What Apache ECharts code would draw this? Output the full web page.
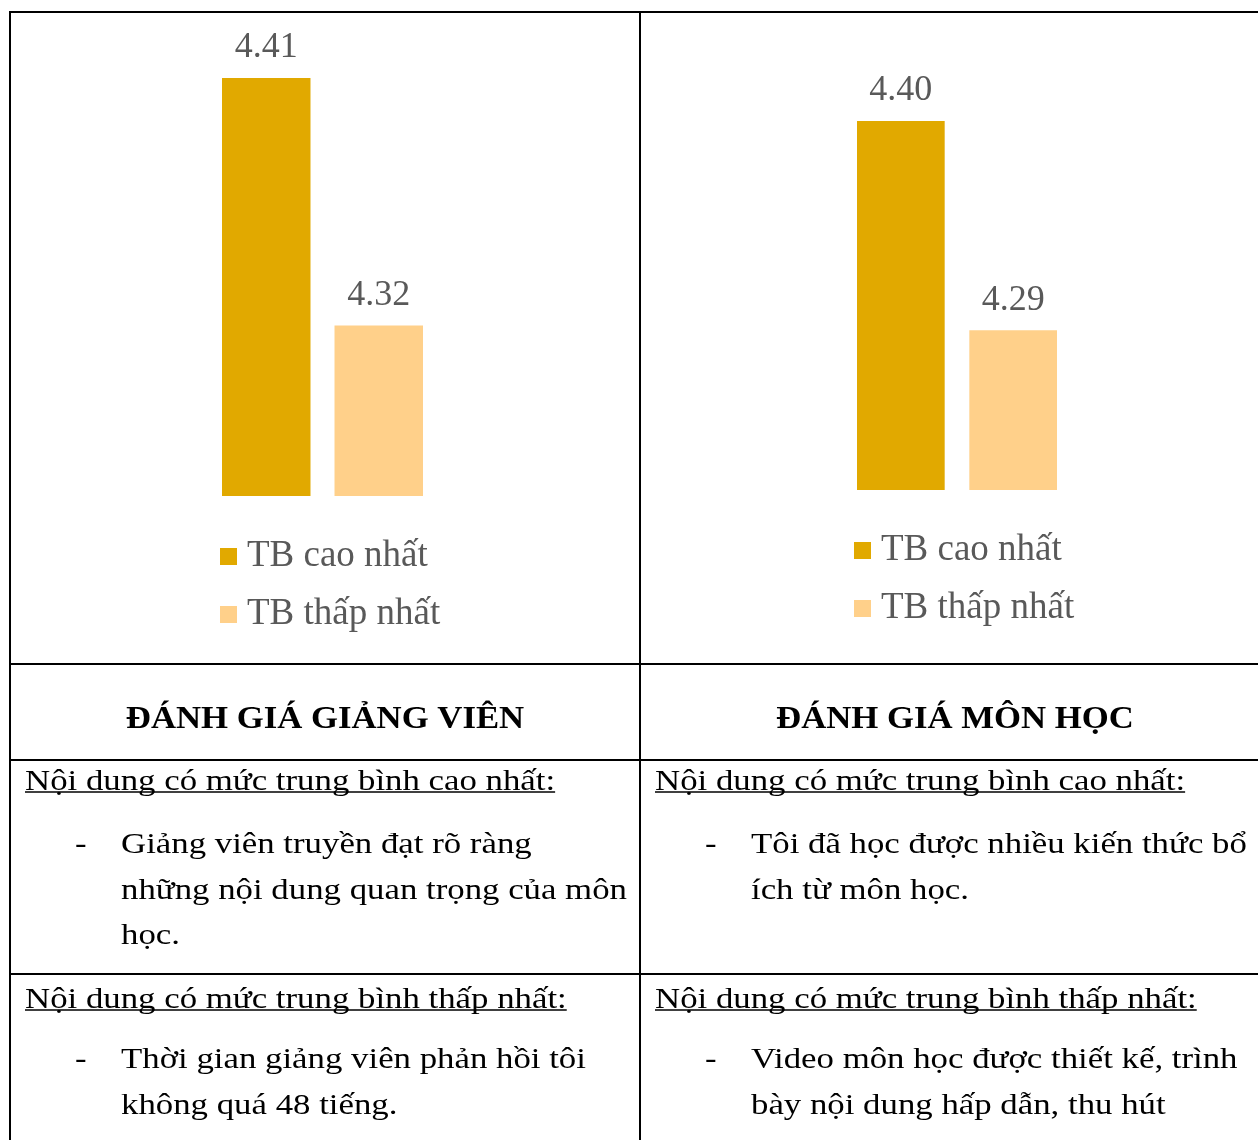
<!DOCTYPE html>
<html>
<head>
<meta charset="utf-8">
<title>Đánh giá giảng viên và môn học</title>
<script src="https://cdn.jsdelivr.net/npm/echarts@6/dist/echarts.min.js"></script>
<style>
  html, body { margin: 0; padding: 0; background: #fff; }
  #chart { width: 1258px; height: 1140px; }
</style>
</head>
<body>
<div id="chart"></div>
<script>
// du lieu
const seriesNames = ['TB cao nhất', 'TB thấp nhất']
const lecturerValues = [4.41, 4.32]
const courseValues = [4.40, 4.29]
const panelTitles = ['ĐÁNH GIÁ GIẢNG VIÊN', 'ĐÁNH GIÁ MÔN HỌC']
const highHeading = 'Nội dung có mức trung bình cao nhất:'
const lowHeading = 'Nội dung có mức trung bình thấp nhất:'
const lecturerHigh = ['Giảng viên truyền đạt rõ ràng', 'những nội dung quan trọng của môn', 'học.']
const lecturerLow = ['Thời gian giảng viên phản hồi tôi', 'không quá 48 tiếng.']
const courseHigh = ['Tôi đã học được nhiều kiến thức bổ', 'ích từ môn học.']
const courseLow = ['Video môn học được thiết kế, trình', 'bày nội dung hấp dẫn, thu hút']

const colors = ['#E1A900', '#FFD08A']
const serif = '"Liberation Serif", "Times New Roman", serif'
const bodySize = 29
const stretch = 1.2
// chu nam tren dinh khung, chuyen sang duong co so
const baseShift = 21

const measureCtx = document.createElement('canvas').getContext('2d')
function textWidth (str, font) {
  measureCtx.font = font
  return measureCtx.measureText(str).width
}

const chartIns = echarts.init(document.getElementById('chart'))
const graphics = []

// khung bang
const lineStyle = { stroke: '#000', lineWidth: 2 }
function hLine (y) {
  graphics.push({ type: 'line', shape: { x1: 9, y1: y, x2: 1258, y2: y }, style: lineStyle, silent: true })
}
function vLine (x, y1, y2) {
  graphics.push({ type: 'line', shape: { x1: x, y1: y1, x2: x, y2: y2 }, style: lineStyle, silent: true })
}
hLine(12)
hLine(664)
hLine(760)
hLine(974)
vLine(10, 11, 1140)
vLine(640, 11, 1140)

function bodyText (str, x, y) {
  graphics.push({
    type: 'text',
    x: x,
    y: y - baseShift,
    scaleX: stretch,
    silent: true,
    style: {
      text: str,
      x: 0,
      y: 0,
      font: bodySize + 'px ' + serif,
      fill: '#000'
    }
  })
}
function headingText (str, x, y) {
  bodyText(str, x, y)
  const w = textWidth(str, bodySize + 'px ' + serif) * stretch
  graphics.push({
    type: 'line',
    shape: { x1: x, y1: y + 3, x2: x + w, y2: y + 3 },
    style: { stroke: '#000', lineWidth: 1.5 },
    silent: true
  })
}
function bulletBlock (lines, x, y) {
  bodyText('-', x, y)
  lines.forEach((l, i) => bodyText(l, x + 46, y + i * 45.5))
}

// tieu de cot
const titleSize = 31
panelTitles.forEach((t, i) => {
  graphics.push({
    type: 'text',
    x: i === 0 ? 325 : 955,
    y: 704,
    scaleX: 1.12,
    silent: true,
    style: {
      text: t,
      x: 0,
      y: 0,
      font: 'bold ' + titleSize + 'px ' + serif,
      fill: '#000',
      textAlign: 'center'
    }
  })
})

headingText(highHeading, 25, 789)
headingText(highHeading, 655, 789)
bulletBlock(lecturerHigh, 75, 852)
bulletBlock(courseHigh, 705, 852)
headingText(lowHeading, 25, 1007)
headingText(lowHeading, 655, 1007)
bulletBlock(lecturerLow, 75, 1067)
bulletBlock(courseLow, 705, 1067)

const labelStyle = {
  show: true,
  position: 'top',
  distance: 12,
  color: '#595959',
  fontFamily: serif,
  fontSize: 36,
  formatter: (p) => p.value.toFixed(2)
}

function barSeries (name, value, idx, color, width, gap) {
  return {
    name: name,
    type: 'bar',
    xAxisIndex: idx,
    yAxisIndex: idx,
    barWidth: width,
    barGap: gap,
    itemStyle: { color: color },
    label: labelStyle,
    emphasis: { disabled: true },
    data: [value]
  }
}

function legendAt (left, top) {
  return {
    orient: 'vertical',
    left: left,
    top: top,
    padding: 0,
    icon: 'rect',
    itemWidth: 17,
    itemHeight: 17,
    itemGap: 21,
    selectedMode: false,
    textStyle: { color: '#595959', fontFamily: serif, fontSize: 37, padding: [0, 0, 0, 5] },
    data: seriesNames
  }
}

const options = {
  animation: false,
  color: colors,
  grid: [
    { left: 222, top: 78, width: 201, height: 418 },
    { left: 857, top: 121, width: 200, height: 369 }
  ],
  xAxis: [0, 1].map(i => ({
    type: 'category',
    gridIndex: i,
    data: [''],
    show: false
  })),
  yAxis: [
    { type: 'value', gridIndex: 0, min: 4.258, max: 4.41, show: false },
    { type: 'value', gridIndex: 1, min: 4.206, max: 4.40, show: false }
  ],
  legend: [legendAt(220, 538), legendAt(854, 532)],
  series: [
    barSeries(seriesNames[0], lecturerValues[0], 0, colors[0], 89, '27%'),
    barSeries(seriesNames[1], lecturerValues[1], 0, colors[1], 89, '27%'),
    barSeries(seriesNames[0], courseValues[0], 1, colors[0], 88, '28%'),
    barSeries(seriesNames[1], courseValues[1], 1, colors[1], 88, '28%')
  ],
  graphic: graphics
}

chartIns.setOption(options)
</script>
</body>
</html>
